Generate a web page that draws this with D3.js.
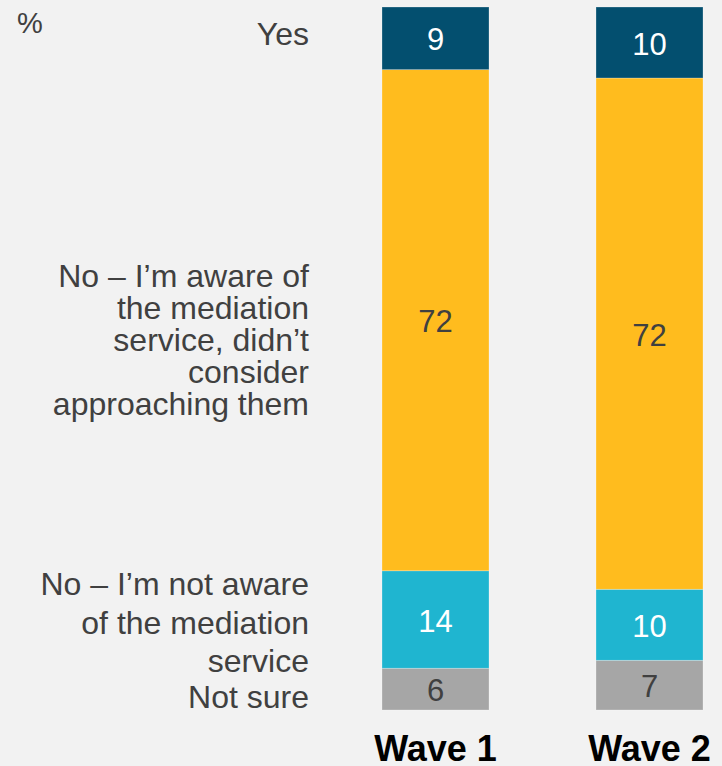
<!DOCTYPE html>
<html>
<head>
<meta charset="utf-8">
<script src="https://cdn.jsdelivr.net/npm/d3@7"></script>
<style>
  html, body { margin: 0; padding: 0; background: #f2f2f2; }
  svg { display: block; font-family: "Liberation Sans", Arial, sans-serif; }
</style>
</head>
<body>
<div id="chart"></div>
<script>
// Chart data
const waves = ['Wave 1', 'Wave 2'];
const keys = ['notSure', 'notAware', 'awareNo', 'yes'];   // bottom -> top
const yesValues = [9, 10];
const awareNoValues = [72, 72];
const notAwareValues = [14, 10];
const notSureValues = [6, 7];
const categoryLines = {
    yes: ['Yes'],
    awareNo: ['No – I’m aware of', 'the mediation', 'service, didn’t', 'consider', 'approaching them'],
    notAware: ['No – I’m not aware', 'of the mediation', 'service'],
    notSure: ['Not sure']
};

// Styling
const colors = { yes: '#034f6f', awareNo: '#ffbc1e', notAware: '#1fb5d0', notSure: '#a6a6a6' };
const valueColors = { yes: '#ffffff', awareNo: '#404040', notAware: '#ffffff', notSure: '#404040' };
// first baseline and line height of each left-hand label block
const labelLayout = {
    yes: { y: 45, lh: 32 },
    awareNo: { y: 287, lh: 32 },
    notAware: { y: 595, lh: 38.5 },
    notSure: { y: 708, lh: 32 }
};

const svgWidth = 722;
const svgHeight = 766;

const svg = d3.select('#chart')
    .append('svg')
    .attr('width', svgWidth)
    .attr('height', svgHeight);

const rows = waves.map((w, i) => ({
    wave: w,
    yes: yesValues[i],
    awareNo: awareNoValues[i],
    notAware: notAwareValues[i],
    notSure: notSureValues[i]
}));

// each bar fills the full height (values sum to 99-101)
const series = d3.stack()
    .keys(keys)
    .offset(d3.stackOffsetExpand)(rows);

const x = d3.scaleBand()
    .domain(waves)
    .range([328.5, 756.5])
    .paddingInner(0.5)
    .paddingOuter(0.25);

const y = d3.scaleLinear()
    .domain([0, 1])
    .range([710, 7]);

const layers = svg.selectAll('g.layer')
    .data(series)
    .enter()
    .append('g')
    .attr('class', 'layer');

layers.selectAll('rect')
    .data(s => s.map(d => ({ key: s.key, d: d })))
    .enter()
    .append('rect')
    .attr('x', p => x(p.d.data.wave))
    .attr('width', x.bandwidth())
    .attr('y', p => y(p.d[1]))
    .attr('height', p => y(p.d[0]) - y(p.d[1]))
    .attr('fill', p => colors[p.key])
    .attr('stroke', 'rgba(255,255,255,0.35)')
    .attr('stroke-width', 0.75);

layers.selectAll('text')
    .data(s => s.map(d => ({ key: s.key, d: d })))
    .enter()
    .append('text')
    .attr('x', p => x(p.d.data.wave) + x.bandwidth() / 2)
    .attr('y', p => (y(p.d[0]) + y(p.d[1])) / 2 + 12)
    .attr('text-anchor', 'middle')
    .attr('font-size', 31)
    .attr('fill', p => valueColors[p.key])
    .text(p => p.d.data[p.key]);

// category labels on the left
keys.forEach(k => {
    const t = svg.append('text')
        .attr('text-anchor', 'end')
        .attr('font-size', 32)
        .attr('fill', '#404040');
    categoryLines[k].forEach((line, i) => {
        t.append('tspan')
            .attr('x', 309)
            .attr('y', labelLayout[k].y + i * labelLayout[k].lh)
            .text(line);
    });
});

// unit
svg.append('text')
    .attr('x', 17)
    .attr('y', 33)
    .attr('font-size', 29)
    .attr('fill', '#404040')
    .text('%');

// wave labels
svg.selectAll('text.wave')
    .data(waves)
    .enter()
    .append('text')
    .attr('class', 'wave')
    .attr('x', d => x(d) + x.bandwidth() / 2)
    .attr('y', 761)
    .attr('text-anchor', 'middle')
    .attr('font-size', 36)
    .attr('font-weight', 'bold')
    .attr('fill', '#000')
    .text(d => d);
</script>
</body>
</html>
